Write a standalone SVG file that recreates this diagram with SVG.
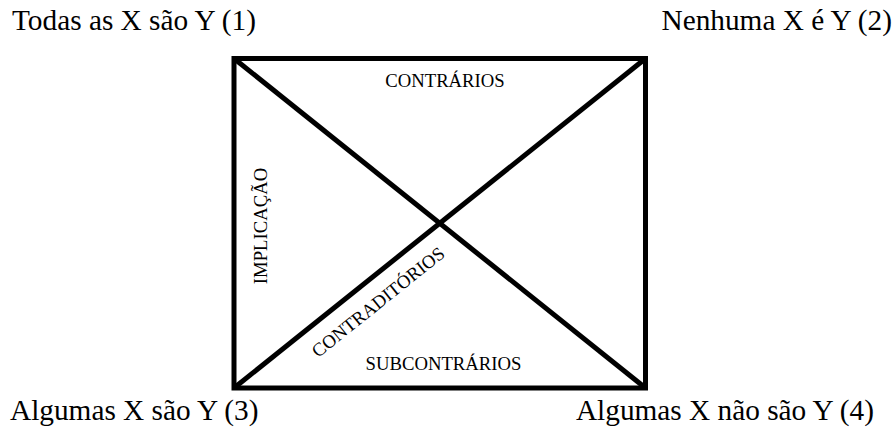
<svg xmlns="http://www.w3.org/2000/svg" width="896" height="432" viewBox="0 0 896 432">
<style>
.big{font-family:"Liberation Serif","Times New Roman",serif;font-size:29.3px;fill:#000}
.small{font-family:"Liberation Serif","Times New Roman",serif;font-size:18.7px;fill:#000}
.ln{stroke:#000;stroke-width:5;fill:none}
</style>
<rect width="896" height="432" fill="#fff"/>
<g id="connectors">
<rect class="ln" x="234" y="58.5" width="411.5" height="329.5"/>
<line class="ln" x1="234" y1="58.5" x2="645.5" y2="388"/>
<line class="ln" x1="234" y1="388" x2="645.5" y2="58.5"/>
</g>
<g id="n1"><text class="big" x="12" y="30">Todas as X são Y (1)</text></g>
<g id="n2"><text class="big" x="892" y="30" text-anchor="end">Nenhuma X é Y (2)</text></g>
<g id="n3"><text class="big" x="10" y="420">Algumas X são Y (3)</text></g>
<g id="n4"><text class="big" x="874" y="420" text-anchor="end">Algumas X não são Y (4)</text></g>
<g id="labels">
<text class="small" x="445" y="87" text-anchor="middle">CONTRÁRIOS</text>
<text class="small" x="443.5" y="370" text-anchor="middle">SUBCONTRÁRIOS</text>
<text class="small" text-anchor="middle" transform="translate(267,226) rotate(-90)">IMPLICAÇÃO</text>
<text class="small" text-anchor="middle" transform="translate(382,307) rotate(-38.7)">CONTRADITÓRIOS</text>
</g>
</svg>
